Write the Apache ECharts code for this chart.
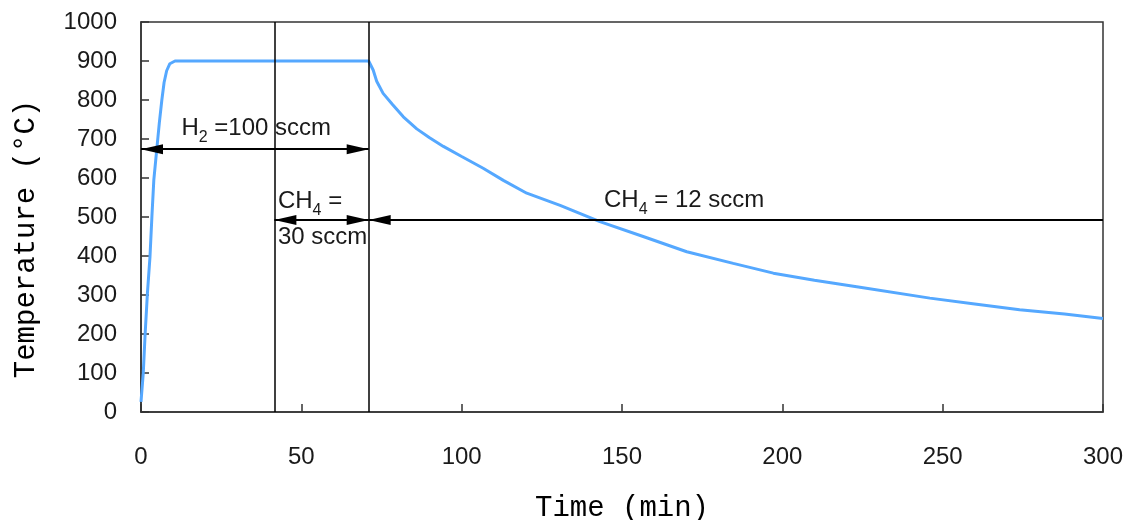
<!DOCTYPE html>
<html>
<head>
<meta charset="utf-8">
<script src="https://cdn.jsdelivr.net/npm/echarts@6/dist/echarts.min.js"></script>
<style>
  html, body { margin: 0; padding: 0; background: #fff; }
  #chart { width: 1125px; height: 520px; }
</style>
</head>
<body>
<div id="chart"></div>
<script>
// furnace profile
var timeMin = [0, 0.7, 1.3, 2, 2.8, 3.4, 4, 4.9, 5.7, 6.5, 7.2, 8, 9, 10.6, 41.6, 71,
  72.4, 73.5, 75.5, 78.5, 81.8, 86, 90, 94.3, 100, 106.7, 113, 120.3, 130.7, 143.1,
  156.6, 170.2, 184.7, 197.2, 210, 224.2, 246, 260, 274, 288, 300];
var tempC = [26, 99, 202, 304, 398, 501, 595, 672, 740, 800, 845, 875, 893, 900, 900, 900,
  877, 848, 817, 788, 757, 726, 703, 681, 655, 625, 594, 561, 530, 488,
  450, 411, 381, 356, 338, 320, 292, 277, 262, 251, 240];

var xTicks = { min: 0, max: 300, step: 50 };
var yTicks = { min: 0, max: 1000, step: 100 };

// gas switch times (min)
var switchTimes = [41.6, 71];

// flow arrows: [start time, end time, level]
var h2Arrow = [0, 71, 674];
var ch4LowArrow = [41.6, 71, 492];
var ch4Arrow = [71, 300, 492];

// annotation anchors: [time, temperature] of left edge / cap middle
var notes = [
  { at: [12.6, 727], parts: [['n', 'H'], ['s', '2'], ['n', ' =100 sccm']] },
  { at: [42.7, 540], parts: [['n', 'CH'], ['s', '4'], ['n', ' =']] },
  { at: [42.7, 448], parts: [['n', '30 sccm']] },
  { at: [144.4, 543], parts: [['n', 'CH'], ['s', '4'], ['n', ' = 12 sccm']] }
];

var txtColor = '#1a1a1a';
var sansFont = '"Liberation Sans", Arial, sans-serif';
var monoFont = '"Liberation Mono", "DejaVu Sans Mono", monospace';

var chart = echarts.init(document.getElementById('chart'));

var pts = timeMin.map(function (t, i) { return [t, tempC[i]]; });

var headSize = [10, 22];
function head(sym) {
  return sym === 'none'
    ? { symbol: 'none' }
    : { symbol: sym, symbolSize: headSize, symbolOffset: [0, headSize[1] / 2] };
}
function arrowPair(a, startSym, endSym) {
  return [
    Object.assign({ coord: [a[0], a[2]] }, head(startSym)),
    Object.assign({ coord: [a[1], a[2]] }, head(endSym))
  ];
}

var markData = switchTimes.map(function (t) {
  return { xAxis: t, lineStyle: { color: '#000', width: 1.5, type: 'solid' } };
});
markData.push(arrowPair(h2Arrow, 'triangle', 'triangle'));
markData.push(arrowPair(ch4LowArrow, 'triangle', 'triangle'));
markData.push(arrowPair(ch4Arrow, 'triangle', 'none'));

chart.setOption({
  animation: false,
  backgroundColor: '#fff',
  grid: {
    left: 141, right: 22, top: 22, bottom: 108,
    outerBoundsMode: 'none',
    show: true, borderColor: '#333', borderWidth: 1.5
  },
  xAxis: {
    type: 'value',
    min: xTicks.min, max: xTicks.max, interval: xTicks.step,
    name: 'Time (min)',
    nameLocation: 'middle',
    nameGap: 82,
    nameTextStyle: { fontFamily: monoFont, fontSize: 29, color: '#000' },
    axisLine: { lineStyle: { color: '#333', width: 1.5 } },
    axisTick: { inside: true, length: 8, lineStyle: { color: '#333', width: 1.5 } },
    axisLabel: { margin: 33, fontFamily: sansFont, fontSize: 24, color: txtColor },
    splitLine: { show: false }
  },
  yAxis: {
    type: 'value',
    min: yTicks.min, max: yTicks.max, interval: yTicks.step,
    name: 'Temperature (°C)',
    nameLocation: 'middle',
    nameGap: 100,
    nameTextStyle: { fontFamily: monoFont, fontSize: 29, color: '#000', padding: [0, 44, 0, 0] },
    axisLine: { lineStyle: { color: '#333', width: 1.5 } },
    axisTick: { inside: true, length: 8, lineStyle: { color: '#333', width: 1.5 } },
    axisLabel: {
      margin: 24, fontFamily: sansFont, fontSize: 24, color: txtColor,
      formatter: function (v) { return String(v); }
    },
    splitLine: { show: false }
  },
  series: [{
    type: 'line',
    data: pts,
    showSymbol: false,
    lineStyle: { color: '#55a8ff', width: 3 },
    itemStyle: { color: '#55a8ff' },
    markLine: {
      silent: true,
      symbol: ['none', 'none'],
      label: { show: false },
      lineStyle: { color: '#000', width: 2, type: 'solid' },
      itemStyle: { color: '#000' },
      data: markData
    }
  }]
});

// annotation texts placed at data positions
var rich = {
  n: { fontFamily: sansFont, fontSize: 24, lineHeight: 24, verticalAlign: 'top', color: txtColor },
  s: { fontFamily: sansFont, fontSize: 16, padding: [13, 0, 0, 0], verticalAlign: 'bottom', color: txtColor }
};
var graphics = notes.map(function (nt) {
  var p = chart.convertToPixel({ gridIndex: 0 }, nt.at);
  var str = nt.parts.map(function (pp) { return '{' + pp[0] + '|' + pp[1] + '}'; }).join('');
  return {
    type: 'text',
    x: p[0], y: p[1] - 12,
    silent: true,
    style: { text: str, rich: rich, align: 'left', verticalAlign: 'top', fill: txtColor }
  };
});
chart.setOption({ graphic: graphics });
</script>
</body>
</html>
